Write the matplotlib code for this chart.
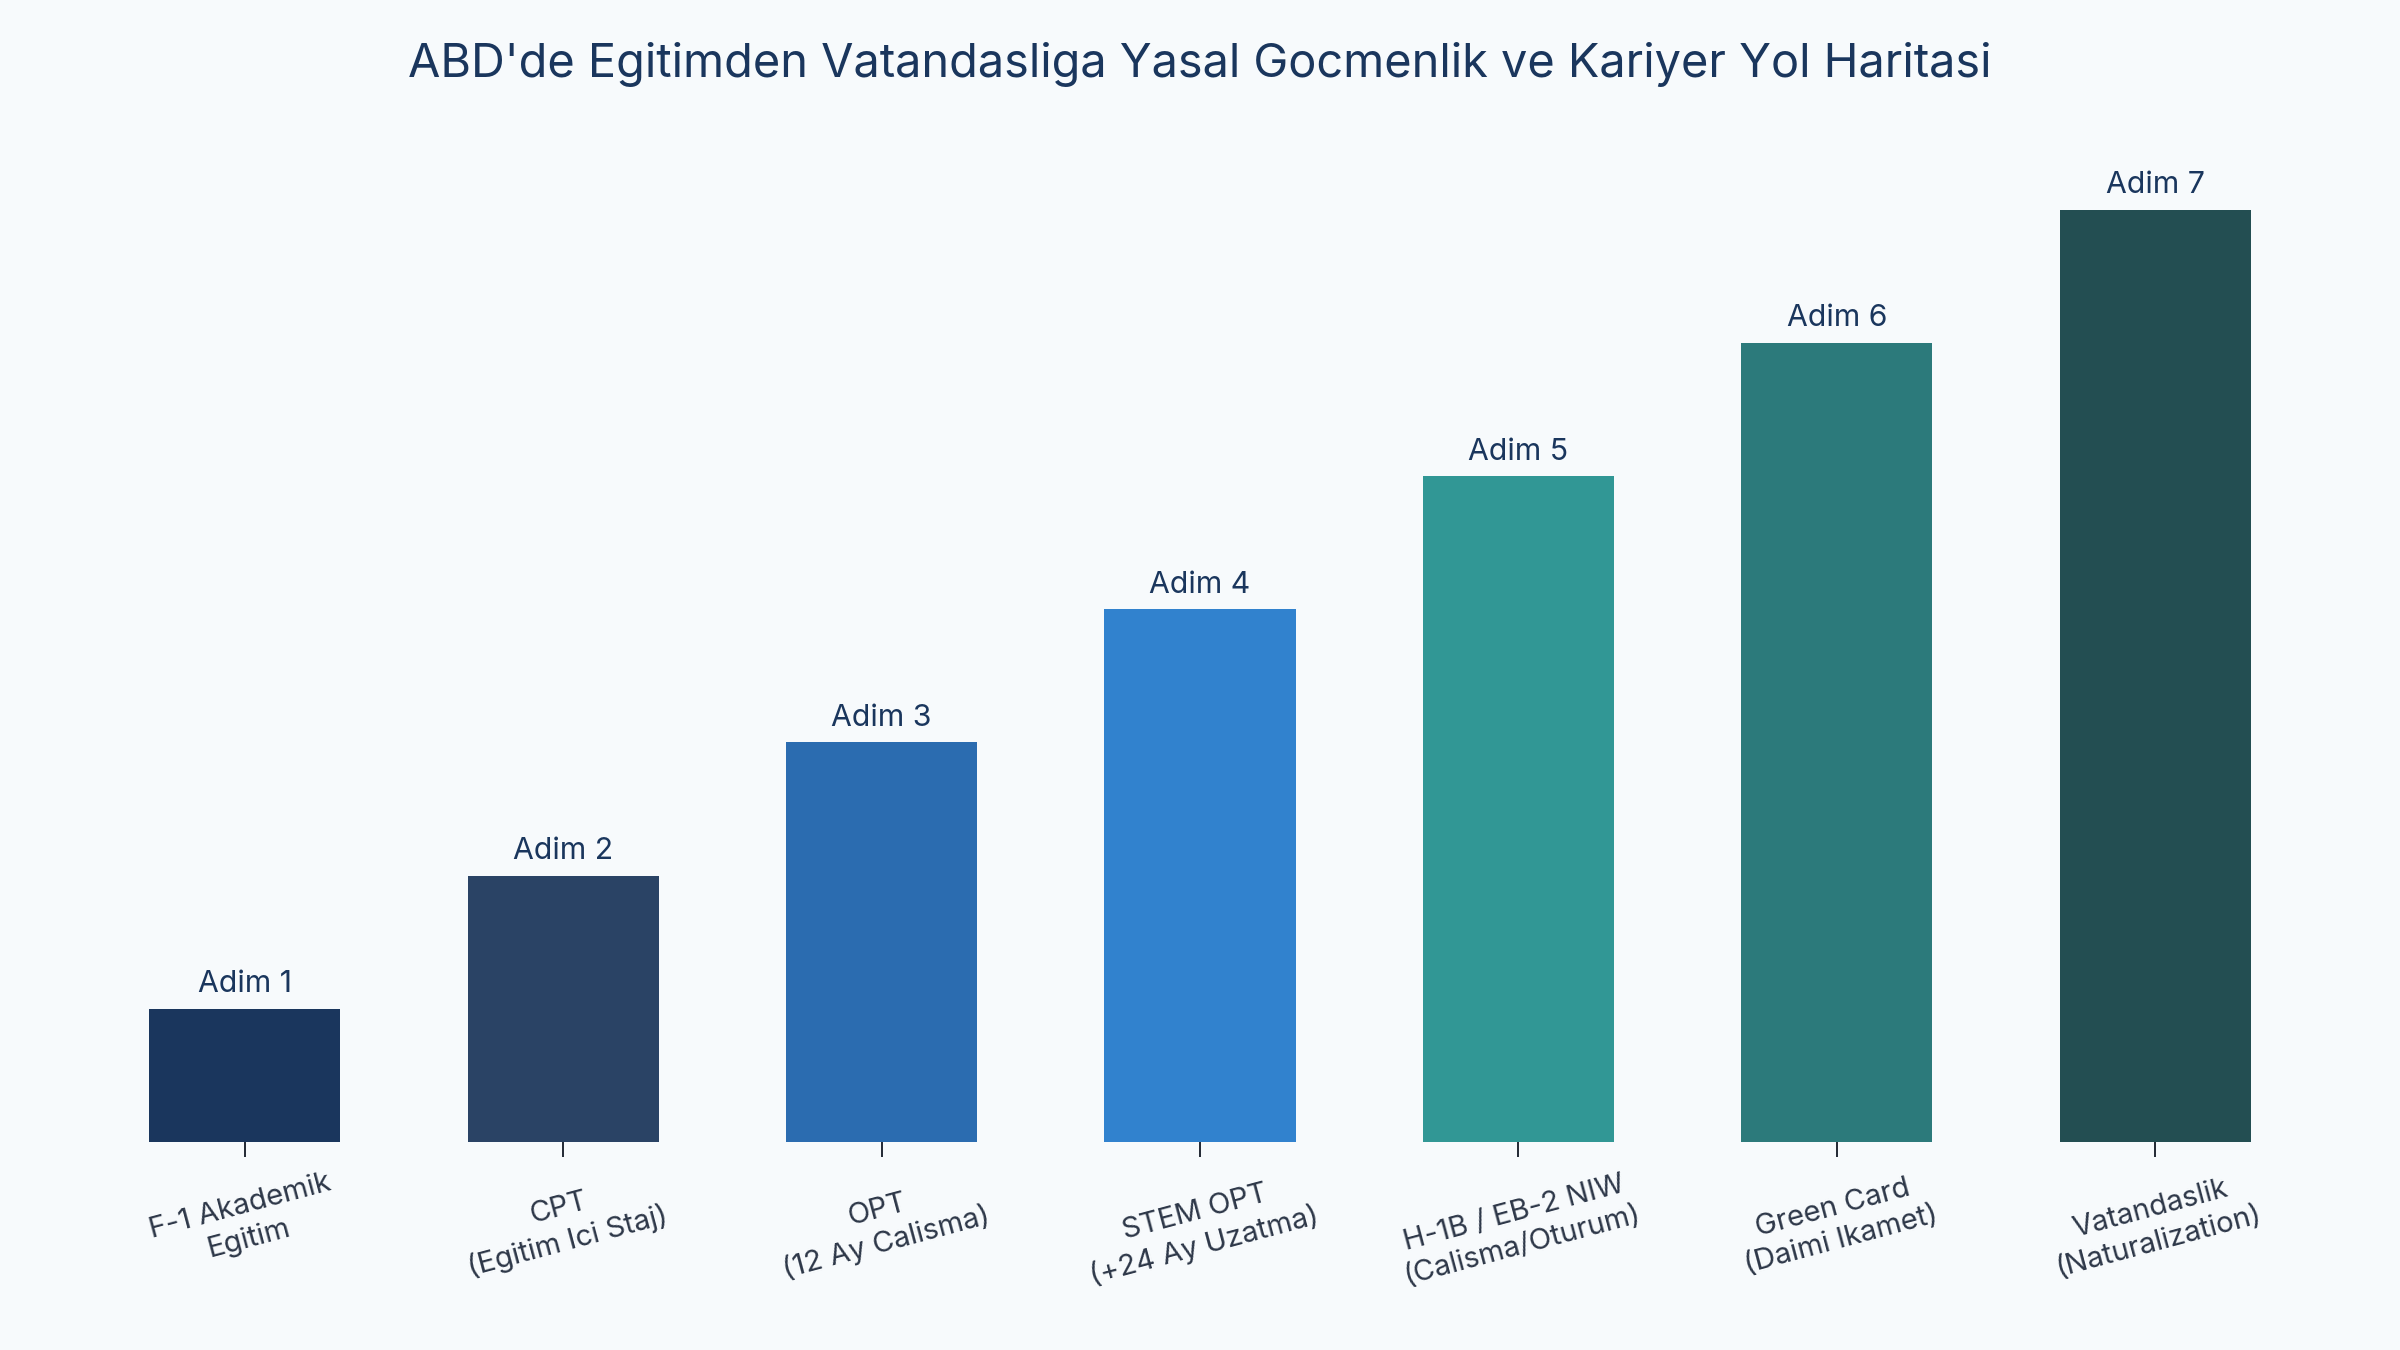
import numpy as np
import matplotlib.pyplot as plt

plt.rcParams['font.family'] = ['Inter', 'DejaVu Sans']

steps = ["F-1 Akademik\nEgitim", "CPT\n(Egitim Ici Staj)", "OPT\n(12 Ay Calisma)",
         "STEM OPT\n(+24 Ay Uzatma)", "H-1B / EB-2 NIW\n(Calisma/Oturum)",
         "Green Card\n(Daimi Ikamet)", "Vatandaslik\n(Naturalization)"]
levels = [1, 2, 3, 4, 5, 6, 7]
step_labels = ["Adim 1", "Adim 2", "Adim 3", "Adim 4", "Adim 5", "Adim 6", "Adim 7"]
colors = ["#1A365D", "#2A4365", "#2B6CB0", "#3182CE", "#319795", "#2C7A7B", "#234E52"]

bg = "#F7FAFC"
fig = plt.figure(figsize=(16, 9), dpi=150, facecolor=bg)
ax = fig.add_axes([0.0158, 0.1542, 0.9684, 0.7398])
ax.set_facecolor(bg)

x = np.arange(len(steps))
bars = ax.bar(x, levels, width=0.6, color=colors)

for b, lab in zip(bars, step_labels):
    ax.annotate(lab, (b.get_x() + b.get_width() / 2, b.get_height()),
                xytext=(0, 5), textcoords='offset points',
                ha='center', va='bottom', fontsize=14.5, color="#1A365D")

ax.set_xlim(-0.65, 6.65)
ax.set_ylim(0, 7.5)
ax.set_xticks(x)
ax.set_xticklabels(steps, rotation=15, ha='center', fontsize=14, color="#2D3748",
                   linespacing=1.3)
ax.tick_params(axis='x', length=7, width=0.9, color="#1A202C", pad=6)
ax.set_yticks([])
for s in ax.spines.values():
    s.set_visible(False)

fig.text(0.5, 0.952, "ABD'de Egitimden Vatandasliga Yasal Gocmenlik ve Kariyer Yol Haritasi",
         ha='center', va='center', fontsize=22.5, color="#1A365D")

fig.savefig("out.png", dpi=150, facecolor=bg)
